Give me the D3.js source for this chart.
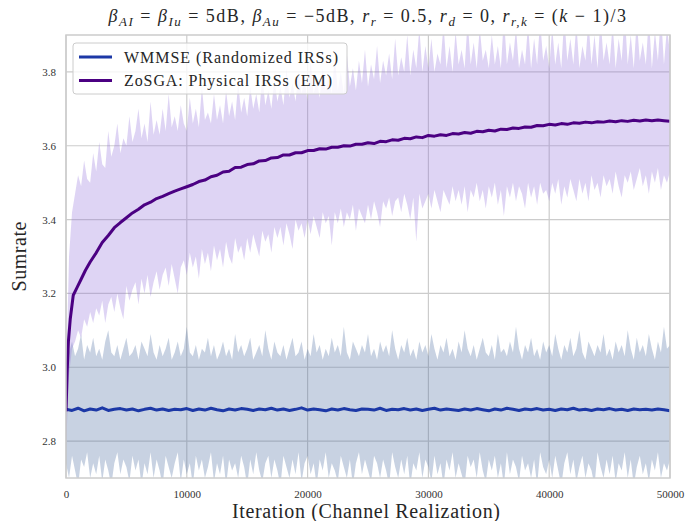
<!DOCTYPE html>
<html><head><meta charset="utf-8">
<script src="https://cdn.jsdelivr.net/npm/d3@7"></script>
<style>body{margin:0;background:#fff}svg{display:block}</style>
</head><body>
<svg id="chart" width="700" height="521"></svg>
<script>
// Axis ticks
const xTicks = [0, 10000, 20000, 30000, 40000, 50000];
const yTicks = [2.8, 3.0, 3.2, 3.4, 3.6, 3.8];
const seriesNames = ["WMMSE (Randomized IRSs)", "ZoSGA: Physical IRSs (EM)"];
const maxIter = 50000;

// WMMSE: running mean, sampled evenly over 0..50000
const wmmseMean = [2.886,2.883,2.889,2.882,2.887,2.884,2.890,2.883,2.886,2.888,2.884,2.887,2.882,2.886,2.889,2.884,2.887,2.883,2.886,2.885,2.888,2.883,2.887,2.884,2.889,2.885,2.882,2.887,2.884,2.888,2.886,2.883,2.887,2.885,2.889,2.884,2.887,2.883,2.886,2.890,2.884,2.887,2.885,2.882,2.887,2.884,2.888,2.885,2.883,2.887,2.886,2.884,2.889,2.883,2.886,2.885,2.888,2.884,2.887,2.883,2.886,2.889,2.884,2.887,2.885,2.883,2.887,2.884,2.888,2.885,2.882,2.887,2.884,2.889,2.886,2.883,2.887,2.885,2.888,2.884,2.886,2.883,2.887,2.885,2.889,2.884,2.886,2.883,2.887,2.885,2.888,2.884,2.886,2.883,2.887,2.885,2.886,2.884,2.887,2.885,2.882];
// WMMSE: per-realization spread, sampled evenly over 0..50000
const wmmseUpper = [
  3.00,3.04,3.07,3.03,3.05,3.09,3.02,3.06,3.04,3.08, 3.03,3.05,3.02,3.07,3.10,3.04,3.03,3.06,3.02,3.05,
  3.08,3.03,3.04,3.06,3.02,3.07,3.05,3.03,3.09,3.04, 3.02,3.06,3.03,3.05,3.08,3.02,3.04,3.07,3.03,3.05,
  3.11,3.04,3.03,3.06,3.02,3.05,3.04,3.08,3.03,3.06, 3.02,3.04,3.07,3.03,3.05,3.02,3.09,3.04,3.06,3.03,
  3.05,3.08,3.02,3.04,3.06,3.03,3.10,3.05,3.02,3.07, 3.04,3.03,3.06,3.02,3.05,3.08,3.03,3.04,3.07,3.02,
  3.05,3.03,3.09,3.04,3.06,3.02,3.05,3.03,3.08,3.04, 3.06,3.03,3.11,3.04,3.02,3.07,3.05,3.03,3.06,3.04,
  3.09,3.03,3.05,3.02,3.07,3.04,3.06,3.03,3.10,3.05, 3.02,3.06,3.04,3.08,3.03,3.05,3.02,3.07,3.04,3.06,
  3.03,3.09,3.05,3.02,3.06,3.04,3.08,3.03,3.05,3.02, 3.07,3.04,3.10,3.05,3.03,3.06,3.02,3.05,3.08,3.04,
  3.03,3.06,3.02,3.09,3.04,3.05,3.03,3.07,3.04,3.11, 3.05,3.02,3.06,3.04,3.08,3.03,3.05,3.02,3.07,3.04,
  3.06,3.03,3.09,3.05,3.02,3.06,3.04,3.08,3.03,3.05, 3.10,3.04,3.02,3.07,3.05,3.03,3.06,3.04,3.09,3.03,
  3.05,3.02,3.07,3.04,3.06,3.03,3.10,3.05,3.02,3.08, 3.04,3.06,3.03,3.09,3.05,3.02,3.07,3.04,3.11,3.05,
  3.06];
const wmmseLower = [
  2.74,2.70,2.76,2.72,2.68,2.75,2.73,2.77,2.70,2.74, 2.71,2.76,2.69,2.75,2.72,2.68,2.74,2.77,2.71,2.75,
  2.73,2.69,2.76,2.72,2.75,2.68,2.74,2.71,2.77,2.70, 2.75,2.72,2.68,2.76,2.73,2.70,2.74,2.77,2.69,2.75,
  2.71,2.74,2.68,2.76,2.72,2.75,2.70,2.73,2.77,2.69, 2.74,2.71,2.76,2.68,2.75,2.72,2.74,2.70,2.76,2.73,
  2.68,2.75,2.71,2.77,2.72,2.69,2.74,2.76,2.70,2.75, 2.72,2.68,2.76,2.73,2.70,2.75,2.71,2.77,2.69,2.74,
  2.76,2.71,2.74,2.68,2.75,2.72,2.77,2.70,2.74,2.72, 2.69,2.76,2.73,2.70,2.75,2.68,2.74,2.77,2.71,2.75,
  2.72,2.69,2.76,2.74,2.70,2.75,2.72,2.68,2.77,2.73, 2.70,2.75,2.71,2.76,2.68,2.74,2.72,2.77,2.70,2.75,
  2.73,2.69,2.76,2.71,2.74,2.68,2.75,2.72,2.77,2.70, 2.74,2.71,2.68,2.76,2.73,2.75,2.70,2.77,2.72,2.69,
  2.75,2.72,2.76,2.70,2.74,2.68,2.77,2.71,2.75,2.73, 2.69,2.76,2.72,2.74,2.70,2.75,2.68,2.77,2.73,2.71,
  2.75,2.70,2.76,2.72,2.68,2.74,2.77,2.71,2.75,2.69, 2.73,2.76,2.70,2.74,2.72,2.68,2.77,2.73,2.70,2.75,
  2.71,2.76,2.69,2.74,2.72,2.77,2.70,2.75,2.68,2.73, 2.76,2.71,2.74,2.69,2.75,2.72,2.77,2.70,2.74,2.72,
  2.75];

// ZoSGA: running mean at the recorded iterations
const zosgaIter = [0,100,200,350,600,900,1200,1600,2000,2500,3000,3500,4000,4500,5000,5500,6000,6500,7000,7500,8000,8500,9000,9500,10000,10500,11000,11500,12000,12500,13000,13500,14000,14500,15000,15500,16000,16500,17000,17500,18000,18500,19000,19500,20000,20500,21000,21500,22000,22500,23000,23500,24000,24500,25000,25500,26000,26500,27000,27500,28000,28500,29000,29500,30000,30500,31000,31500,32000,32500,33000,33500,34000,34500,35000,35500,36000,36500,37000,37500,38000,38500,39000,39500,40000,40500,41000,41500,42000,42500,43000,43500,44000,44500,45000,45500,46000,46500,47000,47500,48000,48500,49000,49500,50000];
const zosgaMean = [2.880,2.990,3.070,3.130,3.195,3.215,3.235,3.262,3.285,3.310,3.338,3.357,3.378,3.392,3.405,3.418,3.428,3.440,3.447,3.457,3.463,3.470,3.477,3.483,3.489,3.495,3.503,3.507,3.516,3.520,3.529,3.531,3.541,3.542,3.549,3.551,3.559,3.560,3.567,3.568,3.575,3.575,3.581,3.581,3.587,3.587,3.592,3.591,3.596,3.596,3.600,3.599,3.604,3.604,3.608,3.606,3.612,3.611,3.616,3.615,3.620,3.619,3.624,3.622,3.628,3.626,3.630,3.628,3.633,3.632,3.636,3.634,3.639,3.638,3.642,3.640,3.645,3.644,3.648,3.647,3.651,3.650,3.655,3.654,3.658,3.656,3.660,3.658,3.662,3.661,3.664,3.662,3.665,3.664,3.667,3.665,3.668,3.666,3.669,3.667,3.670,3.668,3.670,3.668,3.666];
// ZoSGA: per-realization spread, sampled evenly over 0..50000
const zosgaUpper = [
  2.95,3.30,3.42,3.47,3.52,3.49,3.56,3.51,3.50,3.58, 3.53,3.61,3.55,3.54,3.64,3.57,3.60,3.66,3.58,3.62,
  3.60,3.68,3.61,3.64,3.70,3.62,3.66,3.61,3.72,3.63, 3.67,3.63,3.70,3.64,3.74,3.65,3.68,3.64,3.71,3.66,
  3.64,3.73,3.66,3.70,3.65,3.76,3.67,3.69,3.66,3.74, 3.67,3.71,3.66,3.75,3.68,3.72,3.67,3.77,3.69,3.73,
  3.68,3.76,3.70,3.74,3.69,3.79,3.71,3.75,3.70,3.78, 3.72,3.76,3.71,3.81,3.73,3.77,3.72,3.80,3.74,3.78,
  3.72,3.83,3.74,3.78,3.73,3.81,3.75,3.79,3.74,3.84, 3.75,3.80,3.74,3.85,3.76,3.81,3.75,3.83,3.77,3.86,
  3.76,3.82,3.78,3.87,3.77,3.83,3.79,3.85,3.78,3.89, 3.79,3.84,3.80,3.90,3.79,3.86,3.81,3.92,3.80,3.87,
  3.81,3.89,3.80,3.85,3.82,3.93,3.81,3.87,3.80,3.91, 3.82,3.86,3.81,3.94,3.82,3.88,3.81,3.92,3.83,3.86,
  3.81,3.90,3.82,3.87,3.81,3.95,3.82,3.88,3.83,3.92, 3.81,3.86,3.82,3.93,3.81,3.89,3.82,3.94,3.83,3.87,
  3.81,3.92,3.82,3.88,3.81,3.95,3.83,3.89,3.82,3.93, 3.81,3.87,3.83,3.94,3.82,3.90,3.81,3.95,3.83,3.88,
  3.82,3.93,3.81,3.89,3.83,3.96,3.82,3.90,3.81,3.94, 3.83,3.88,3.82,3.95,3.81,3.91,3.83,3.96,3.82,3.92,
  3.85];
const zosgaLower = [
  2.78,2.98,3.05,3.07,3.10,3.08,3.13,3.11,3.15,3.12, 3.16,3.14,3.18,3.12,3.17,3.19,3.15,3.20,3.16,3.13,
  3.22,3.18,3.21,3.23,3.17,3.24,3.20,3.25,3.19,3.23, 3.26,3.21,3.25,3.27,3.22,3.28,3.24,3.20,3.27,3.29,
  3.25,3.31,3.27,3.30,3.24,3.32,3.28,3.31,3.26,3.33, 3.29,3.32,3.27,3.34,3.30,3.28,3.35,3.31,3.33,3.29,
  3.35,3.31,3.36,3.33,3.30,3.37,3.34,3.36,3.31,3.38, 3.35,3.38,3.33,3.39,3.36,3.32,3.40,3.37,3.39,3.35,
  3.40,3.36,3.41,3.38,3.35,3.42,3.39,3.41,3.33,3.42, 3.39,3.43,3.38,3.42,3.40,3.44,3.37,3.43,3.41,3.39,
  3.44,3.40,3.45,3.42,3.38,3.45,3.43,3.46,3.41,3.45, 3.46,3.42,3.47,3.44,3.40,3.46,3.34,3.47,3.43,3.45,
  3.47,3.43,3.48,3.45,3.42,3.48,3.46,3.44,3.49,3.45, 3.48,3.44,3.49,3.42,3.48,3.46,3.50,3.45,3.48,3.43,
  3.49,3.46,3.50,3.44,3.48,3.41,3.49,3.46,3.50,3.45, 3.49,3.47,3.43,3.50,3.46,3.49,3.44,3.50,3.47,3.48,
  3.45,3.50,3.47,3.51,3.44,3.49,3.46,3.51,3.48,3.45, 3.51,3.47,3.50,3.45,3.52,3.48,3.50,3.46,3.52,3.49,
  3.51,3.47,3.53,3.49,3.46,3.52,3.50,3.53,3.48,3.51, 3.54,3.49,3.52,3.47,3.53,3.50,3.54,3.48,3.52,3.50,
  3.53];

const colors = { wmmse: "#1c38a6", zosga: "#4b0082" };
const fills = { wmmse: "#48699f", zosga: "#9370db" };

const plot = { left: 66, right: 670, top: 35, bottom: 478 };
const serif = "'Liberation Serif', 'DejaVu Serif', serif";

const svg = d3.select("#chart");
const x = d3.scaleLinear().domain([0, maxIter]).range([plot.left, plot.right]);
const y = d3.scaleLinear().domain([2.7, 3.9]).range([plot.bottom, plot.top]);

svg.append("defs").append("clipPath").attr("id", "plotClip")
  .append("rect").attr("x", plot.left).attr("y", plot.top)
  .attr("width", plot.right - plot.left).attr("height", plot.bottom - plot.top);

// grid
const grid = svg.append("g");
grid.selectAll("line.gx").data(xTicks).join("line")
  .attr("x1", d => x(d)).attr("x2", d => x(d))
  .attr("y1", plot.top).attr("y2", plot.bottom)
  .attr("stroke", "#cccccc").attr("stroke-width", 1.2);
grid.selectAll("line.gy").data(yTicks).join("line")
  .attr("x1", plot.left).attr("x2", plot.right)
  .attr("y1", d => y(d)).attr("y2", d => y(d))
  .attr("stroke", "#cccccc").attr("stroke-width", 1.2);

// evenly spaced samples across the full iteration range
const evenX = arr => (d, i) => x(i * maxIter / (arr.length - 1));

const band = (upper, lower) => d3.area()
  .x(evenX(upper))
  .y0((d, i) => y(lower[i]))
  .y1((d, i) => y(upper[i]));

const marks = svg.append("g").attr("clip-path", "url(#plotClip)");
marks.append("path").datum(wmmseUpper)
  .attr("d", band(wmmseUpper, wmmseLower))
  .attr("fill", fills.wmmse).attr("fill-opacity", 0.3);
marks.append("path").datum(zosgaUpper)
  .attr("d", band(zosgaUpper, zosgaLower))
  .attr("fill", fills.zosga).attr("fill-opacity", 0.3);

marks.append("path").datum(wmmseMean)
  .attr("d", d3.line().x(evenX(wmmseMean)).y(d => y(d)))
  .attr("fill", "none").attr("stroke", colors.wmmse).attr("stroke-width", 3)
  .attr("stroke-linejoin", "round");
marks.append("path").datum(zosgaMean)
  .attr("d", d3.line().x((d, i) => x(zosgaIter[i])).y(d => y(d)))
  .attr("fill", "none").attr("stroke", colors.zosga).attr("stroke-width", 3)
  .attr("stroke-linejoin", "round");

// frame
svg.append("rect").attr("x", plot.left).attr("y", plot.top)
  .attr("width", plot.right - plot.left).attr("height", plot.bottom - plot.top)
  .attr("fill", "none").attr("stroke", "#cccccc").attr("stroke-width", 1.5);

// axes (labels only, no tick marks)
const xAxis = svg.append("g").attr("transform", `translate(0,${plot.bottom})`)
  .call(d3.axisBottom(x).tickValues(xTicks).tickFormat(d3.format("d")).tickSize(0).tickPadding(12));
const yAxis = svg.append("g").attr("transform", `translate(${plot.left},0)`)
  .call(d3.axisLeft(y).tickValues(yTicks).tickFormat(d3.format(".1f")).tickSize(0).tickPadding(10));
[xAxis, yAxis].forEach(a => {
  a.select(".domain").remove();
  a.selectAll("text").attr("font-family", serif).attr("font-size", 11).attr("fill", "#333");
});

// axis titles
svg.append("text").attr("x", 366).attr("y", 518)
  .attr("text-anchor", "middle").attr("font-family", serif).attr("font-size", 20)
  .attr("fill", "#262626").attr("textLength", 268).attr("lengthAdjust", "spacing")
  .text("Iteration (Channel Realization)");
svg.append("text").attr("transform", `translate(26,${(plot.top + plot.bottom) / 2}) rotate(-90)`)
  .attr("text-anchor", "middle").attr("font-family", serif).attr("font-size", 20)
  .attr("fill", "#262626").attr("textLength", 70).attr("lengthAdjust", "spacing")
  .text("Sumrate");

// title with math notation
const titleParts = [
  ["β", "i"], ["AI", "s"], [" = ", "n"], ["β", "i"], ["Iu", "s"], [" = 5dB, ", "n"],
  ["β", "i"], ["Au", "s"], [" = −5dB, ", "n"], ["r", "i"], ["r", "s"], [" = 0.5, ", "n"],
  ["r", "i"], ["d", "s"], [" = 0, ", "n"], ["r", "i"], ["r,k", "s"], [" = (", "n"],
  ["k", "i"], [" − 1)/3", "n"]
];
const title = svg.append("text").attr("x", 368).attr("y", 22)
  .attr("text-anchor", "middle").attr("font-family", serif).attr("font-size", 18)
  .attr("letter-spacing", 1.5).attr("fill", "#262626");
let shifted = false;
titleParts.forEach(([t, k]) => {
  const ts = title.append("tspan").text(t);
  if (k === "s") {
    ts.attr("font-size", 13).attr("font-style", "italic");
    if (!shifted) { ts.attr("dy", 3.5); shifted = true; }
  } else {
    if (shifted) { ts.attr("dy", -3.5); shifted = false; }
    if (k === "i") ts.attr("font-style", "italic");
  }
});

// legend
const legend = svg.append("g");
legend.append("rect").attr("x", 73).attr("y", 43).attr("width", 274).attr("height", 51)
  .attr("rx", 3).attr("fill", "#fff").attr("fill-opacity", 0.8)
  .attr("stroke", "#cccccc").attr("stroke-width", 1);
const legendRows = [
  { name: seriesNames[0], color: colors.wmmse, len: 214 },
  { name: seriesNames[1], color: colors.zosga, len: 208 }
];
legendRows.forEach((r, i) => {
  const cy = 57 + i * 23.5;
  legend.append("line").attr("x1", 79).attr("x2", 112).attr("y1", cy).attr("y2", cy)
    .attr("stroke", r.color).attr("stroke-width", 3);
  legend.append("text").attr("x", 124).attr("y", cy + 5.5)
    .attr("font-family", serif).attr("font-size", 16).attr("fill", "#262626")
    .attr("textLength", r.len).attr("lengthAdjust", "spacing").text(r.name);
});
</script>
</body></html>
